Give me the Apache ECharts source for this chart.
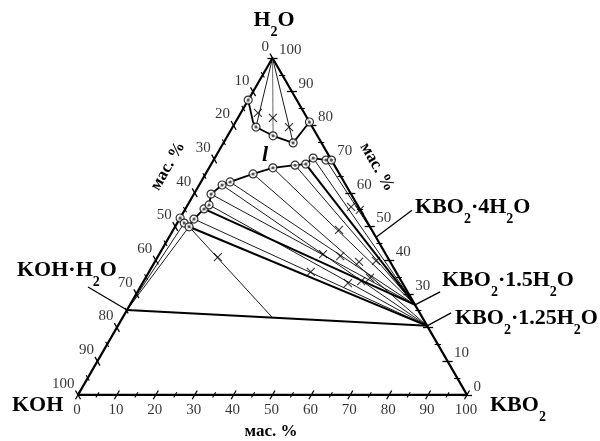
<!DOCTYPE html>
<html><head><meta charset="utf-8">
<script src="https://cdn.jsdelivr.net/npm/echarts@6/dist/echarts.min.js"></script>
<style>html,body{margin:0;padding:0;background:#fff}#c{width:600px;height:441px}</style>
</head><body><div id="c"></div>
<script>
// All compositions are [KBO2 mass %, H2O mass %]; KOH = 100 - KBO2 - H2O
const majorTicks = [0, 10, 20, 30, 40, 50, 60, 70, 80, 90, 100];
const minorTicks = [5, 15, 25, 35, 45, 55, 65, 75, 85, 95];
const tickLabels = ['0', '10', '20', '30', '40', '50', '60', '70', '80', '90', '100'];
const rightTickLabels = ['0', '10', '', '30', '40', '50', '60', '70', '80', '90', '100'];

// solid phases
const pH2O = [0, 100];
const pKOHH2O = [0, 25.2];
const pKBO2_125 = [79.5, 20.5];
const pKBO2_15 = [73.3, 26.7];
const pKBO2_4 = [53.2, 46.8];

// small upper closed curve
const topCurve = [[0, 87.5], [4.5, 81.0], [6.0, 79.5], [11.7, 76.9], [17.9, 74.8], [19.0, 81.0]];
const topCircles = [[0, 87.5], [6.0, 79.5], [11.7, 76.9], [17.9, 74.8], [19.0, 81.0]];
const topTies = [[6.0, 79.5], [17.9, 74.8]];
const topTiesGrey = [[11.7, 76.9]];

// main liquidus
const liqKOH = [[0, 52.5], [1.8, 51.0], [3.6, 49.9]];
const liqMain = [[3.6, 49.9], [3.7, 52.2], [4.8, 55.2], [5.5, 56.4], [4.4, 59.6], [5.9, 62.3], [7.5, 63.2],
  [12.2, 65.6], [16.4, 67.4], [21.7, 68.2], [24.3, 68.5], [25.3, 70.3], [28.9, 69.7], [30.3, 69.7]];

// tie lines (liquid ends)
const tiesKOHH2O = [[0, 52.5], [1.8, 51.0], [3.6, 49.9]];
const ties125 = [[3.7, 52.2], [5.5, 56.4], [5.9, 62.3], [12.2, 65.6]];
const ties125Thick = [[3.6, 49.9], [0, 25.2]];
const ties15 = [[4.4, 59.6], [7.5, 63.2], [16.4, 67.4], [21.7, 68.2], [25.3, 70.3]];
const ties15Thick = [[4.8, 55.2], [24.3, 68.5]];
const ties4 = [[28.9, 69.7], [30.3, 69.7]];
const eutecticRay = [[3.6, 49.9], [38.7, 22.8]];

// initial mixtures (crosses)
const feedX = [[42.3, 55.8], [45.0, 54.9], [42.6, 49.0], [42.1, 41.8], [46.8, 41.2], [52.5, 39.5], [56.7, 39.8],
  [41.6, 36.5], [52.8, 33.2], [55.9, 33.8], [57.7, 34.7], [15.5, 40.9], [4.4, 83.7], [9.0, 82.2], [14.5, 79.5]];

const S = Math.sqrt(3) / 2;
function T(p) { return [p[0] + p[1] / 2, p[1] * S]; }

function tickSegs(vals, len) {
  const segs = [];
  vals.forEach(v => {
    segs.push({ coords: [T([v, -len]), T([v, len])] });
    segs.push({ coords: [T([-len, 100 - v + len]), T([len, 100 - v - len])] });
    segs.push({ coords: [T([100 - v - len, v]), T([100 - v + len, v])] });
  });
  return segs;
}
function ties(list, target) { return list.map(p => ({ coords: [T(p), T(target)] })); }

const FF = 'Liberation Serif';
const chart = echarts.init(document.getElementById('c'), null, { renderer: 'canvas' });

const labelBase = { show: true, fontFamily: FF, fontSize: 15, color: '#000', formatter: p => p.name };
function labelSeries(points, names, pos, distance, offset) {
  return {
    type: 'scatter', symbolSize: 1, itemStyle: { color: 'rgba(0,0,0,0)' }, clip: false, silent: true,
    data: points.map((pt, i) => ({ value: T(pt), name: names[i] })),
    label: Object.assign({}, labelBase, { position: pos, distance: distance, offset: offset }), z: 6
  };
}

const thinLines = [].concat(
  ties(tiesKOHH2O, pKOHH2O), ties(ties125, pKBO2_125), ties(ties15, pKBO2_15), ties(ties4, pKBO2_4),
  ties(topTies, pH2O), [{ coords: eutecticRay.map(T) }]
);
const thickLines = [].concat(ties(ties125Thick, pKBO2_125), ties(ties15Thick, pKBO2_15));

chart.setOption({
  animation: false,
  grid: { left: 78, top: 58, width: 389, height: 100 * S * 3.89 },
  xAxis: { type: 'value', min: 0, max: 100, show: false },
  yAxis: { type: 'value', min: 0, max: 100 * S, show: false },
  series: [
    { type: 'line', data: [[0, 0], [100, 0], [0, 100], [0, 0]].map(T), symbol: 'none', clip: false,
      lineStyle: { color: '#000', width: 2.2 }, z: 5 },
    { type: 'lines', coordinateSystem: 'cartesian2d', data: tickSegs(majorTicks, 1.3), clip: false,
      lineStyle: { color: '#000', width: 1.3, opacity: 1 }, z: 5 },
    { type: 'lines', coordinateSystem: 'cartesian2d', data: tickSegs(minorTicks, 0.8), clip: false,
      lineStyle: { color: '#000', width: 1.1, opacity: 1 }, z: 5 },
    { type: 'lines', coordinateSystem: 'cartesian2d', data: thinLines, clip: false,
      lineStyle: { color: '#000', width: 0.9, opacity: 1 }, z: 3 },
    { type: 'lines', coordinateSystem: 'cartesian2d', data: ties(topTiesGrey, pH2O), clip: false,
      lineStyle: { color: '#777', width: 1.1, opacity: 1 }, z: 3 },
    { type: 'lines', coordinateSystem: 'cartesian2d', data: thickLines, clip: false,
      lineStyle: { color: '#000', width: 2, opacity: 1 }, z: 3 },
    { type: 'line', data: topCurve.map(T), symbol: 'none', clip: false, lineStyle: { color: '#000', width: 1.8 }, z: 4 },
    { type: 'line', data: liqKOH.map(T), symbol: 'none', clip: false, lineStyle: { color: '#000', width: 1.8 }, z: 4 },
    { type: 'line', data: liqMain.map(T), symbol: 'none', clip: false, lineStyle: { color: '#000', width: 1.8 }, z: 4 },
    { type: 'scatter', data: feedX.map(T), symbol: 'path://M0,0L10,10M10,0L0,10', symbolSize: 8, clip: false,
      itemStyle: { color: 'none', borderColor: '#000', borderWidth: 1.1 }, z: 6 },
    { type: 'scatter', data: topCircles.concat(liqKOH, liqMain.slice(1)).map(T), symbol: 'circle', symbolSize: 8, clip: false,
      itemStyle: { color: '#fff', borderColor: '#000', borderWidth: 1.2 }, z: 7 },
    { type: 'scatter', data: topCircles.concat(liqKOH, liqMain.slice(1)).map(T), symbol: 'circle', symbolSize: 3, clip: false,
      itemStyle: { color: '#333' }, z: 8 },
    labelSeries(majorTicks.map(v => [v, 0]), tickLabels, 'bottom', 7, [-1, 0]),
    labelSeries(majorTicks.map(v => [0, 100 - v]), tickLabels, 'left', 3, [0, -11]),
    labelSeries(majorTicks.map(v => [100 - v, v]), rightTickLabels, 'right', 6, [0, -8])
  ]
});

const richStyles = {
  b: { fontFamily: FF, fontWeight: 'bold', fontSize: 22, lineHeight: 24, verticalAlign: 'middle', fill: '#000' },
  s: { fontFamily: FF, fontWeight: 'bold', fontSize: 14, lineHeight: 14, padding: [25, 0, 0, 0], fill: '#000' }
};
function chemText(text, x, y, align) {
  return { type: 'text', x: x, y: y, z: 10, style: { text: text, rich: richStyles, align: align, verticalAlign: 'middle' } };
}
function plainText(text, x, y, rot, extra) {
  return { type: 'text', x: x, y: y, rotation: rot, z: 10,
    style: Object.assign({ text: text, fontFamily: FF, fontWeight: 'bold', fontSize: 17, fill: '#000', align: 'center', verticalAlign: 'middle' }, extra || {}) };
}
function px(p) { return chart.convertToPixel({ gridIndex: 0 }, T(p)); }
function leader(p, dx, dy) {
  const a = px(p);
  return { type: 'line', z: 9, shape: { x1: a[0], y1: a[1], x2: a[0] + dx, y2: a[1] + dy }, style: { stroke: '#000', lineWidth: 1.3 } };
}

chart.setOption({
  graphic: [
    chemText('{b|H}{s|2}{b|O}', 274, 20, 'center'),
    chemText('{b|KOH}', 12, 405, 'left'),
    chemText('{b|KBO}{s|2}', 490, 405, 'left'),
    chemText('{b|KOH·H}{s|2}{b|O}', 17, 270, 'left'),
    chemText('{b|KBO}{s|2}{b|·4H}{s|2}{b|O}', 415, 207, 'left'),
    chemText('{b|KBO}{s|2}{b|·1.5H}{s|2}{b|O}', 442, 280, 'left'),
    chemText('{b|KBO}{s|2}{b|·1.25H}{s|2}{b|O}', 455, 318, 'left'),
    leader(pKOHH2O, -39, -23),
    leader(pKBO2_4, 36, -27),
    leader(pKBO2_15, 25, -13),
    leader(pKBO2_125, 24, -13),
    plainText('мас. %', 271, 432, 0),
    plainText('мас. %', 168, 166, Math.PI / 3),
    plainText('мас. %', 377, 167, -Math.PI / 3),
    plainText('l', 265, 155, 0, { fontStyle: 'italic', fontSize: 22 })
  ]
});
</script></body></html>
